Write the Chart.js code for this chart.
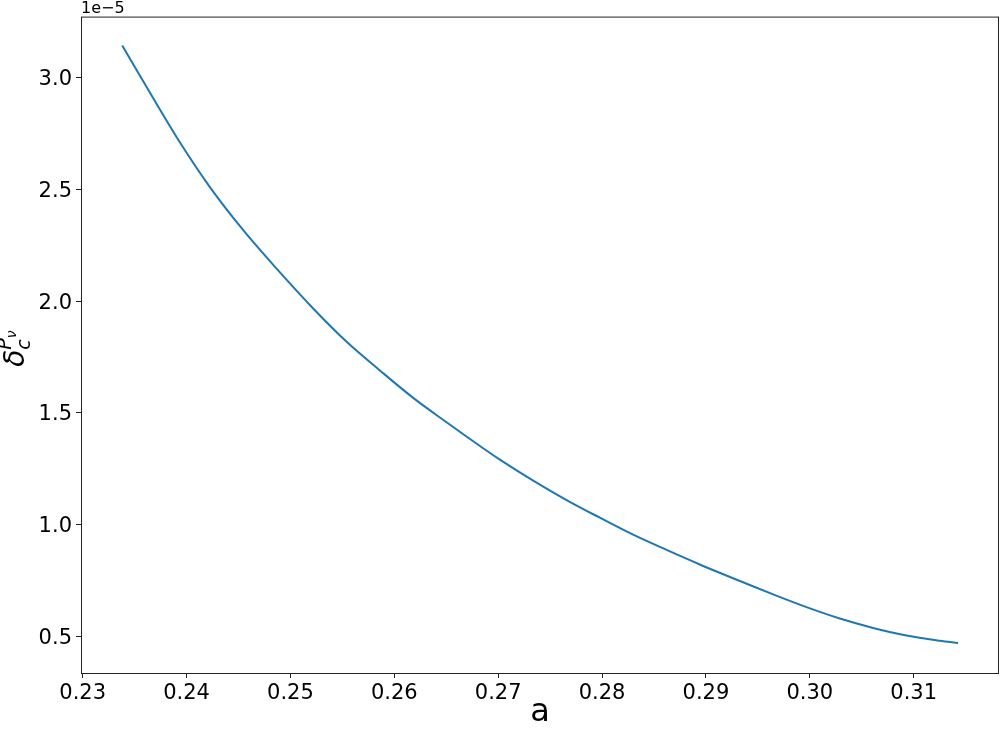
<!DOCTYPE html>
<html>
<head>
<meta charset="utf-8">
<script src="https://cdn.jsdelivr.net/npm/chart.js@4.4.1/dist/chart.umd.min.js"></script>
<style>
  html, body { margin: 0; padding: 0; background: #fff; }
  #wrap { width: 1000px; height: 732px; }
</style>
</head>
<body>
<div id="wrap"><canvas id="chart" width="1000" height="732"></canvas></div>
<script>
// values
const aValues = [0.23381, 0.23583, 0.23905, 0.24225, 0.24546, 0.24867, 0.25219, 0.25541,
    0.25861, 0.26182, 0.26503, 0.26824, 0.27016, 0.27337, 0.27658, 0.27979, 0.28299, 0.28621,
    0.28941, 0.29422, 0.29647, 0.29968, 0.30289, 0.30609, 0.30931, 0.31251, 0.31427];
const deltaValues = [3.143e-5, 2.983e-5, 2.733e-5, 2.510e-5, 2.317e-5, 2.145e-5, 1.967e-5, 1.818e-5,
    1.690e-5, 1.567e-5, 1.458e-5, 1.352e-5, 1.291e-5, 1.197e-5, 1.110e-5, 1.031e-5, 0.955e-5, 0.887e-5,
    0.822e-5, 0.730e-5, 0.688e-5, 0.631e-5, 0.580e-5, 0.538e-5, 0.504e-5, 0.481e-5, 0.471e-5];
const xTicks = [0.23, 0.24, 0.25, 0.26, 0.27, 0.28, 0.29, 0.30, 0.31];
const yTicks = [0.5e-5, 1.0e-5, 1.5e-5, 2.0e-5, 2.5e-5, 3.0e-5];
const yOffsetText = "1e\u22125";

const FONT = "'DejaVu Sans', sans-serif";

// frame + offset text + y label (mathtext-ish)
const extras = {
    id: "extras",
    afterDraw(chart) {
        const ctx = chart.ctx;
        const a = chart.chartArea;
        ctx.save();
        ctx.strokeStyle = "#222";
        ctx.lineWidth = 1;
        ctx.strokeRect(a.left + 0.5, a.top + 0.5, a.right - a.left - 1, a.bottom - a.top);

        ctx.fillStyle = "#000";
        ctx.font = "16px " + FONT;
        ctx.textAlign = "left";
        ctx.textBaseline = "alphabetic";
        ctx.fillText(yOffsetText, a.left, 13);

        // y label: delta_c^{P_nu}, rotated
        ctx.translate(24, (a.top + a.bottom) / 2);
        ctx.rotate(-Math.PI / 2);
        ctx.textAlign = "left";
        ctx.font = "italic 28px " + FONT;
        const dW = ctx.measureText("\u03b4").width;
        const x0 = -22;
        ctx.fillText("\u03b4", x0, 0);
        ctx.font = "italic 19px " + FONT;
        ctx.fillText("c", x0 + dW, 6);
        ctx.fillText("P", x0 + dW, -13);
        const pW = ctx.measureText("P").width;
        ctx.font = "italic 14px " + FONT;
        ctx.fillText("\u03bd", x0 + dW + pW, -8);
        ctx.restore();
    }
};

new Chart(document.getElementById("chart").getContext("2d"), {
    type: "line",
    data: {
        datasets: [{
            data: aValues.map((a, i) => ({ x: a, y: deltaValues[i] })),
            borderColor: "#1f77b4",
            borderWidth: 2,
            pointRadius: 0,
            fill: false,
            cubicInterpolationMode: "monotone"
        }]
    },
    options: {
        responsive: false,
        animation: false,
        layout: { padding: { top: 16, right: 1, left: 0, bottom: 0 } },
        plugins: { legend: { display: false }, tooltip: { enabled: false } },
        scales: {
            x: {
                type: "linear",
                min: 0.22984,
                max: 0.31821,
                afterBuildTicks: s => { s.ticks = xTicks.map(v => ({ value: v })); },
                afterFit: s => { s.height = 59; },
                grid: { drawOnChartArea: false, drawTicks: true, tickLength: 5, color: "#222" },
                border: { display: false },
                ticks: {
                    color: "#000",
                    font: { family: FONT, size: 21 },
                    padding: 3,
                    maxRotation: 0,
                    callback: v => v.toFixed(2)
                },
                title: {
                    display: true,
                    text: "a",
                    color: "#000",
                    font: { family: FONT, size: 32 },
                    padding: { top: 0, bottom: 0 }
                }
            },
            y: {
                type: "linear",
                min: 0.3365e-5,
                max: 3.2725e-5,
                afterBuildTicks: s => { s.ticks = yTicks.map(v => ({ value: v })); },
                afterFit: s => { s.width = 81; },
                grid: { drawOnChartArea: false, drawTicks: true, tickLength: 5, color: "#222" },
                border: { display: false },
                ticks: {
                    color: "#000",
                    font: { family: FONT, size: 21 },
                    padding: 4,
                    labelOffset: 2,
                    callback: v => (v / 1e-5).toFixed(1)
                }
            }
        }
    },
    plugins: [extras]
});
</script>
</body>
</html>
